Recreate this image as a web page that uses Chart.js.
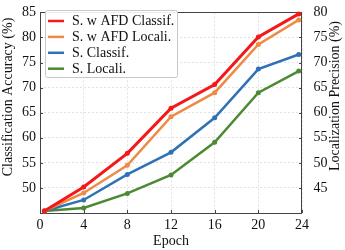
<!DOCTYPE html>
<html>
<head>
<meta charset="utf-8">
<script src="https://cdn.jsdelivr.net/npm/chart.js@4/dist/chart.umd.min.js"></script>
<style>
    html, body { margin: 0; padding: 0; background: #fff; }
    #wrap { width: 345px; height: 250px; }
</style>
</head>
<body>
<div id="wrap"><canvas id="myChart" width="345" height="250"></canvas></div>
<script>
// данные
const epochs = [0.4, 4, 8, 12, 16, 20, 23.7];
const afdClassif = [45.4, 50.2, 56.9, 65.9, 70.6, 80.1, 84.7];
const afdLocali = [40.4, 44.0, 49.5, 59.2, 64.0, 73.6, 78.5];
const sClassif = [45.4, 47.6, 52.7, 57.1, 64.0, 73.7, 76.6];
const sLocali = [40.4, 41.0, 43.9, 47.6, 54.1, 64.0, 68.3];
const seriesNames = ['S. w AFD Classif.', 'S. w AFD Locali.', 'S. Classif.', 'S. Locali.'];
const seriesColors = ['#f41818', '#ee8a45', '#2f72b4', '#4b8a33'];
const xTitle = 'Epoch';
const yTitle = 'Classification Accuracy (%)';
const y2Title = 'Localization Precision (%)';

const serif = "'Liberation Serif', 'Times New Roman', serif";

function pts(arr) {
    return arr.map((v, i) => ({ x: epochs[i], y: v }));
}

function ds(idx, arr, axis, width) {
    return {
        label: seriesNames[idx],
        data: pts(arr),
        yAxisID: axis,
        borderColor: seriesColors[idx],
        backgroundColor: seriesColors[idx],
        borderWidth: width,
        pointRadius: 2.5,
        pointBorderWidth: 0,
        tension: 0,
        clip: false
    };
}

// рамка, короткие засечки внутрь, легенда и подписи осей Y
const extras = {
    id: 'extras',
    beforeDatasetsDraw(chart) {
        const a = chart.chartArea;
        const ctx = chart.ctx;
        ctx.save();
        ctx.strokeStyle = '#444';
        ctx.lineWidth = 1;
        ctx.strokeRect(Math.round(a.left) + 0.5, Math.round(a.top) + 0.5,
            Math.round(a.right - a.left) - 1, Math.round(a.bottom - a.top));
        ctx.beginPath();
        chart.scales.x.ticks.forEach((t) => {
            const px = Math.round(chart.scales.x.getPixelForValue(t.value)) + 0.5;
            ctx.moveTo(px, a.bottom);
            ctx.lineTo(px, a.bottom - 3);
        });
        chart.scales.y.ticks.forEach((t) => {
            const py = Math.round(chart.scales.y.getPixelForValue(t.value)) + 0.5;
            ctx.moveTo(a.left, py);
            ctx.lineTo(a.left + 3, py);
        });
        chart.scales.y2.ticks.forEach((t) => {
            const py = Math.round(chart.scales.y2.getPixelForValue(t.value)) + 0.5;
            ctx.moveTo(a.right, py);
            ctx.lineTo(a.right - 3, py);
        });
        ctx.stroke();
        ctx.restore();
    },
    afterDraw(chart) {
        const ctx = chart.ctx;
        ctx.save();
        // легенда
        ctx.fillStyle = 'rgba(255,255,255,0.9)';
        ctx.strokeStyle = '#c8c8c8';
        ctx.lineWidth = 1;
        ctx.beginPath();
        ctx.roundRect(45.5, 10.5, 132, 67, 2);
        ctx.fill();
        ctx.stroke();
        ctx.font = '14px ' + serif;
        ctx.textBaseline = 'middle';
        for (let i = 0; i < seriesNames.length; i++) {
            const y = 21 + i * 15.9;
            ctx.strokeStyle = seriesColors[i];
            ctx.lineWidth = 2.5;
            ctx.beginPath();
            ctx.moveTo(48, y);
            ctx.lineTo(64, y);
            ctx.stroke();
            ctx.fillStyle = '#111';
            ctx.fillText(seriesNames[i], 72, y + 0.5);
        }
        // подписи осей Y, обе снизу вверх
        ctx.textAlign = 'center';
        ctx.fillStyle = '#111';
        ctx.save();
        ctx.translate(8.5, 97);
        ctx.rotate(-Math.PI / 2);
        ctx.fillText(yTitle, 0, 0);
        ctx.restore();
        ctx.translate(335.5, 96);
        ctx.rotate(-Math.PI / 2);
        ctx.fillText(y2Title, 0, 0);
        ctx.restore();
    }
};

const grid = {
    color: '#e2e2e2',
    drawTicks: false,
    lineWidth: 1
};

const ctx = document.getElementById('myChart').getContext('2d');
window.chart = new Chart(ctx, {
    type: 'line',
    data: {
        datasets: [
            ds(0, afdClassif, 'y', 3),
            ds(1, afdLocali, 'y2', 2.5),
            ds(2, sClassif, 'y', 2.5),
            ds(3, sLocali, 'y2', 2.5)
        ]
    },
    options: {
        responsive: false,
        animation: false,
        devicePixelRatio: 1,
        layout: { padding: { top: 6, left: 0, right: 0, bottom: 0 } },
        plugins: {
            legend: { display: false },
            tooltip: { enabled: false }
        },
        scales: {
            x: {
                type: 'linear',
                min: 0,
                max: 24,
                ticks: {
                    stepSize: 4,
                    padding: 4,
                    color: '#111',
                    font: { family: serif, size: 14 }
                },
                grid: grid,
                border: { display: false, dash: [2, 2] },
                title: {
                    display: true,
                    text: xTitle,
                    color: '#111',
                    font: { family: serif, size: 14 },
                    padding: { top: 0, bottom: 0 }
                },
                afterFit(scale) { scale.height = 37; }
            },
            y: {
                position: 'left',
                min: 45,
                max: 85,
                ticks: {
                    stepSize: 5,
                    padding: 4,
                    color: '#111',
                    font: { family: serif, size: 14 },
                    callback: (v) => v === 45 ? '' : v
                },
                grid: grid,
                border: { display: false, dash: [2, 2] },
                title: { display: false },
                afterFit(scale) { scale.width = 40; }
            },
            y2: {
                position: 'right',
                min: 40,
                max: 80,
                ticks: {
                    stepSize: 5,
                    padding: 3.5,
                    color: '#111',
                    font: { family: serif, size: 14 },
                    callback: (v) => v === 40 ? '' : v
                },
                grid: { display: false },
                border: { display: false },
                title: { display: false },
                afterFit(scale) { scale.width = 43; }
            }
        }
    },
    plugins: [extras]
});
</script>
</body>
</html>
